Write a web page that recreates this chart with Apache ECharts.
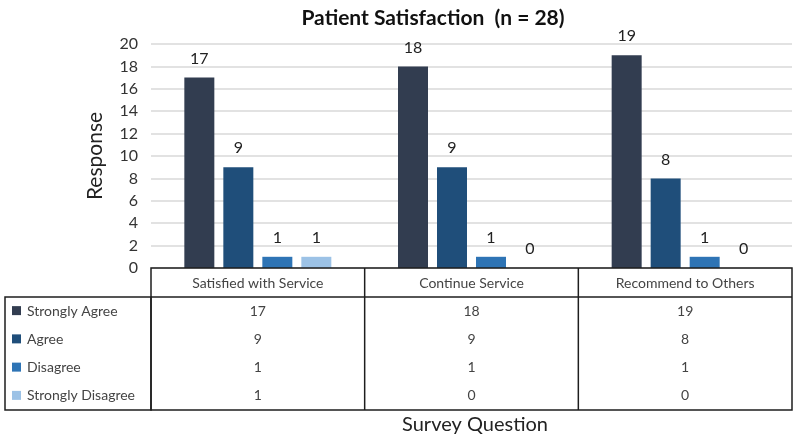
<!DOCTYPE html>
<html><head><meta charset="utf-8">
<script src="https://cdn.jsdelivr.net/npm/echarts@6/dist/echarts.min.js"></script>
<style>html,body{margin:0;padding:0;background:#fff}#c{width:800px;height:439px}</style>
</head><body><div id="c"></div>
<script>
const categories = ['Satisfied with Service', 'Continue Service', 'Recommend to Others'];
const seriesNames = ['Strongly Agree', 'Agree', 'Disagree', 'Strongly Disagree'];
const stronglyAgree = [17, 18, 19];
const agree = [9, 9, 8];
const disagree = [1, 1, 1];
const stronglyDisagree = [1, 0, 0];
const yTicks = [0, 2, 4, 6, 8, 10, 12, 14, 16, 18, 20];
const colors = ['#323d50', '#1f4e7a', '#2e74b5', '#9cc2e6'];
const values = [stronglyAgree, agree, disagree, stronglyDisagree];

const FONT = 'Lato, "Open Sans", sans-serif';
const gl = 151, gr = 792, gt = 44, gb = 268;
const tableTop = 268, headerBottom = 297, tableBottom = 410, leftX = 5;
const rowH = (tableBottom - headerBottom) / seriesNames.length;
const colW = (gr - gl) / categories.length;

const chart = echarts.init(document.getElementById('c'));

const graphic = [];
const lineStyle = { stroke: '#1e1e1e', lineWidth: 1.5, fill: null };
graphic.push({ type: 'rect', shape: { x: gl, y: tableTop, width: gr - gl, height: tableBottom - tableTop }, style: lineStyle, z: 10 });
graphic.push({ type: 'line', shape: { x1: gl, y1: headerBottom, x2: gr, y2: headerBottom }, style: lineStyle, z: 10 });
graphic.push({ type: 'rect', shape: { x: leftX, y: headerBottom, width: gl - leftX, height: tableBottom - headerBottom }, style: lineStyle, z: 10 });
for (let i = 1; i < categories.length; i++) {
  const x = gl + colW * i;
  graphic.push({ type: 'line', shape: { x1: x, y1: tableTop, x2: x, y2: tableBottom }, style: lineStyle, z: 10 });
}
seriesNames.forEach((name, r) => {
  const cy = headerBottom + rowH * (r + 0.5);
  graphic.push({ type: 'rect', shape: { x: 12, y: cy - 5, width: 9, height: 9 }, style: { fill: colors[r] }, z: 10 });
  graphic.push({ type: 'text', x: 27, y: cy, style: { text: name, font: '14px ' + FONT, fill: '#444', verticalAlign: 'middle', align: 'left' }, z: 10 });
  values[r].forEach((v, c) => {
    graphic.push({ type: 'text', x: gl + colW * (c + 0.5), y: cy, style: { text: String(v), font: '14px ' + FONT, fill: '#444', verticalAlign: 'middle', align: 'center' }, z: 10 });
  });
});
graphic.push({ type: 'text', x: 475, y: 425, style: { text: 'Survey Question', font: '20px ' + FONT, fill: '#222', verticalAlign: 'middle', align: 'center' }, z: 10 });

chart.setOption({
  animation: false,
  title: { text: 'Patient Satisfaction  (n = 28)', left: 428, top: 3, textAlign: 'center',
    textStyle: { fontFamily: FONT, fontSize: 21, fontWeight: 'bold', color: '#111' } },
  grid: { left: gl, right: 800 - gr, top: gt, bottom: 439 - gb, containLabel: false },
  xAxis: { type: 'category', data: categories,
    axisLine: { show: false }, axisTick: { show: false },
    axisLabel: { margin: 8, fontFamily: FONT, fontSize: 14, color: '#444' } },
  yAxis: { type: 'value', min: yTicks[0], max: yTicks[yTicks.length - 1], interval: 2,
    name: 'Response', nameLocation: 'middle', nameGap: 45,
    nameTextStyle: { fontFamily: FONT, fontSize: 21, color: '#222' },
    axisLabel: { margin: 13, fontFamily: FONT, fontSize: 16, color: '#333' },
    splitLine: { lineStyle: { color: '#d9d9d9', width: 1.5 } } },
  series: seriesNames.map((name, i) => ({
    name, type: 'bar', data: values[i], barWidth: 30, barGap: '30%',
    itemStyle: { color: colors[i] },
    label: { show: true, position: 'top', distance: 11, fontFamily: FONT, fontSize: 16, color: '#222' }
  })),
  graphic
});
</script></body></html>
